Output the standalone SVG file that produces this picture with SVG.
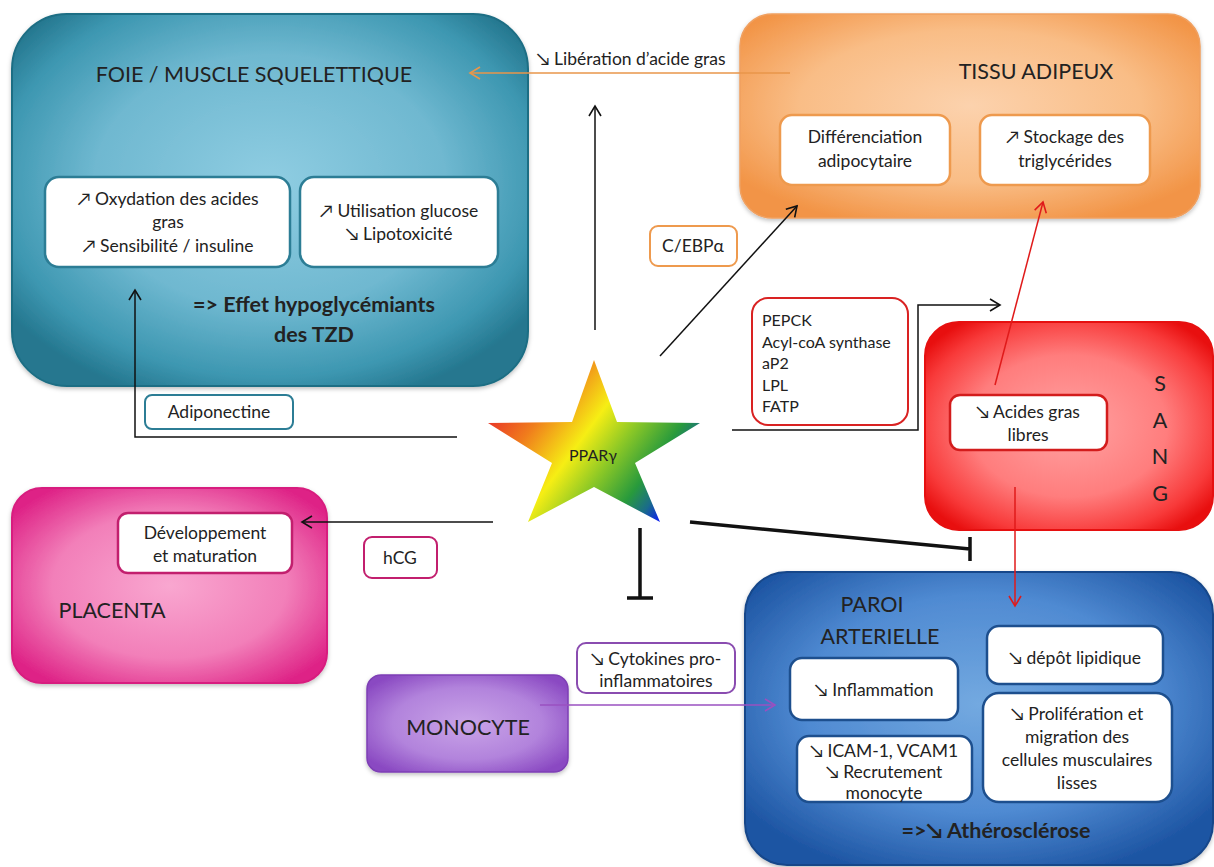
<svg xmlns="http://www.w3.org/2000/svg" width="1214" height="867" viewBox="0 0 1214 867">
<defs>
<radialGradient id="gTeal" cx="0.5" cy="0.45" r="0.62"><stop offset="0" stop-color="#8fcde2"/><stop offset="0.55" stop-color="#6fb8d0"/><stop offset="0.85" stop-color="#3d97b1"/><stop offset="1" stop-color="#25778f"/></radialGradient>
<radialGradient id="gOrange" cx="0.5" cy="0.45" r="0.62"><stop offset="0" stop-color="#fcd2ad"/><stop offset="0.6" stop-color="#f9bd86"/><stop offset="1" stop-color="#f29446"/></radialGradient>
<radialGradient id="gRed" cx="0.5" cy="0.5" r="0.62"><stop offset="0" stop-color="#ffa3a3"/><stop offset="0.55" stop-color="#ff7d7d"/><stop offset="0.85" stop-color="#f83a3a"/><stop offset="1" stop-color="#e80f0f"/></radialGradient>
<radialGradient id="gPink" cx="0.5" cy="0.5" r="0.62"><stop offset="0" stop-color="#f9a7d0"/><stop offset="0.6" stop-color="#f27fb9"/><stop offset="1" stop-color="#de2286"/></radialGradient>
<radialGradient id="gPurple" cx="0.5" cy="0.5" r="0.62"><stop offset="0" stop-color="#c9a4e8"/><stop offset="0.6" stop-color="#b283dc"/><stop offset="1" stop-color="#8a49c2"/></radialGradient>
<radialGradient id="gBlue" cx="0.5" cy="0.45" r="0.62"><stop offset="0" stop-color="#73a9e0"/><stop offset="0.6" stop-color="#4f8ad2"/><stop offset="1" stop-color="#1d55a3"/></radialGradient>
<linearGradient id="gStar" gradientUnits="userSpaceOnUse" x1="495" y1="400" x2="662" y2="522">
<stop offset="0" stop-color="#e82a2a"/><stop offset="0.22" stop-color="#f07c1c"/><stop offset="0.45" stop-color="#f6ee14"/><stop offset="0.62" stop-color="#8cc826"/><stop offset="0.8" stop-color="#289a3c"/><stop offset="0.9" stop-color="#1a6c8a"/><stop offset="1" stop-color="#0a14ff"/></linearGradient>
<marker id="aBlack" markerWidth="14" markerHeight="14" refX="12" refY="7" orient="auto" markerUnits="userSpaceOnUse"><path d="M2,1 L12,7 L2,13" fill="none" stroke="#111" stroke-width="1.6"/></marker>
<marker id="aOrange" markerWidth="14" markerHeight="14" refX="12" refY="7" orient="auto" markerUnits="userSpaceOnUse"><path d="M2,1 L12,7 L2,13" fill="none" stroke="#e8964a" stroke-width="1.6"/></marker>
<marker id="aRed" markerWidth="14" markerHeight="14" refX="12" refY="7" orient="auto" markerUnits="userSpaceOnUse"><path d="M2,1 L12,7 L2,13" fill="none" stroke="#e01a1a" stroke-width="1.6"/></marker>
<marker id="aPurple" markerWidth="14" markerHeight="14" refX="12" refY="7" orient="auto" markerUnits="userSpaceOnUse"><path d="M2,1 L12,7 L2,13" fill="none" stroke="#9a50c0" stroke-width="1.6"/></marker>
<filter id="sh" x="-10%" y="-10%" width="120%" height="120%"><feDropShadow dx="0" dy="2" stdDeviation="2" flood-color="#000" flood-opacity="0.25"/></filter>
</defs>
<style>
text{font-family:Lato,"Open Sans","DejaVu Sans",sans-serif;fill:#222;text-anchor:middle}
.t{font-size:17.5px}
.h{font-size:21.5px}
.b{font-size:21.5px;font-weight:bold}
.l{text-anchor:start;font-size:16px}
.inner{fill:#fff;stroke-width:2.5}
.ln{fill:none;stroke:#111;stroke-width:1.5}
.inh{fill:none;stroke:#111;stroke-width:3.5}
</style>

<g id="foie">
<rect x="12" y="14" width="516" height="372" rx="55" fill="url(#gTeal)" stroke="#1f6e84" stroke-width="2" filter="url(#sh)"/>
<text class="h" x="254" y="82">FOIE / MUSCLE SQUELETTIQUE</text>
<rect class="inner" x="45" y="177" width="245" height="90" rx="14" stroke="#2c7d95"/>
<text class="t" x="168" y="205">↗ Oxydation des acides</text>
<text class="t" x="168" y="228">gras</text>
<text class="t" x="168" y="252">↗ Sensibilité / insuline</text>
<rect class="inner" x="300" y="177" width="198" height="90" rx="14" stroke="#2c7d95"/>
<text class="t" x="399" y="217">↗ Utilisation glucose</text>
<text class="t" x="399" y="240">↘ Lipotoxicité</text>
<text class="b" x="314" y="312">=&gt; Effet hypoglycémiants</text>
<text class="b" x="314" y="342">des TZD</text>
</g>

<g id="liberation"><text class="t" x="631" y="65">↘ Libération d’acide gras</text></g>

<g id="adiponectine">
<rect x="145" y="395" width="148" height="34" rx="7" fill="#fff" stroke="#2c7d95" stroke-width="2"/>
<text class="t" x="219" y="418">Adiponectine</text>
</g>

<g id="tissu">
<rect x="740" y="14" width="460" height="204" rx="32" fill="url(#gOrange)" stroke="#f0a060" stroke-width="1.5" filter="url(#sh)"/>
<text class="h" x="1036" y="79">TISSU ADIPEUX</text>
<rect class="inner" x="780" y="115" width="170" height="70" rx="12" stroke="#ee9a4e"/>
<text class="t" x="865" y="143">Différenciation</text>
<text class="t" x="865" y="167">adipocytaire</text>
<rect class="inner" x="980" y="115" width="170" height="70" rx="12" stroke="#ee9a4e"/>
<text class="t" x="1065" y="143">↗ Stockage des</text>
<text class="t" x="1065" y="167">triglycérides</text>
</g>

<g id="cebp">
<rect x="650" y="226" width="87" height="40" rx="8" fill="#fff" stroke="#ee9a4e" stroke-width="2"/>
<text class="t" x="693" y="252">C/EBPα</text>
</g>

<g id="genes">
<rect x="752" y="298" width="156" height="127" rx="16" fill="#fff" stroke="#d92222" stroke-width="2"/>
<text class="l" x="762" y="326">PEPCK</text>
<text class="l" x="762" y="348">Acyl-coA synthase</text>
<text class="l" x="762" y="369">aP2</text>
<text class="l" x="762" y="391">LPL</text>
<text class="l" x="762" y="412">FATP</text>
</g>

<g id="sang">
<rect x="925" y="322" width="288" height="208" rx="34" fill="url(#gRed)" stroke="#e61010" stroke-width="2"/>
<rect class="inner" x="950" y="395" width="157" height="55" rx="10" stroke="#d31c1c"/>
<text class="t" x="1028" y="418">↘ Acides gras</text>
<text class="t" x="1028" y="441">libres</text>
<text class="h" x="1160" y="391">S</text>
<text class="h" x="1160" y="428">A</text>
<text class="h" x="1160" y="464">N</text>
<text class="h" x="1160" y="501">G</text>
</g>

<g id="ppar">
<polygon points="594,360 617,422 700,423 635,463 660,522 594,487 528,522 552,463 488,423 572,422" fill="url(#gStar)"/>
<text x="593" y="461" style="font-size:16px">PPARγ</text>
</g>

<g id="placenta">
<rect x="12" y="488" width="315" height="195" rx="30" fill="url(#gPink)" stroke="#d81f7f" stroke-width="2" filter="url(#sh)"/>
<rect class="inner" x="118" y="513" width="174" height="60" rx="10" stroke="#c21f6e"/>
<text class="t" x="205" y="539">Développement</text>
<text class="t" x="205" y="562">et maturation</text>
<text class="h" x="112" y="618">PLACENTA</text>
</g>

<g id="hcg">
<rect x="364" y="537" width="73" height="41" rx="8" fill="#fff" stroke="#c21f6e" stroke-width="2"/>
<text class="t" x="400" y="564">hCG</text>
</g>

<g id="cytokines">
<rect x="577" y="643" width="158" height="50" rx="9" fill="#fff" stroke="#8a4cb0" stroke-width="2"/>
<text class="t" x="656" y="665">↘ Cytokines pro-</text>
<text class="t" x="656" y="687">inflammatoires</text>
</g>

<g id="monocyte">
<rect x="367" y="675" width="201" height="97" rx="14" fill="url(#gPurple)" stroke="#7e3fb5" stroke-width="1.5" filter="url(#sh)"/>
<text class="h" x="468" y="735">MONOCYTE</text>
</g>

<g id="paroi">
<rect x="745" y="572" width="468" height="293" rx="42" fill="url(#gBlue)" stroke="#17478a" stroke-width="2" filter="url(#sh)"/>
<text class="h" x="872" y="612">PAROI</text>
<text class="h" x="880" y="644">ARTERIELLE</text>
<rect class="inner" x="790" y="658" width="168" height="62" rx="12" stroke="#1d4f8e"/>
<text class="t" x="874" y="696">↘ Inflammation</text>
<rect class="inner" x="797" y="736" width="175" height="66" rx="12" stroke="#1d4f8e"/>
<text class="t" x="884" y="757">↘ ICAM-1, VCAM1</text>
<text class="t" x="884" y="778">↘ Recrutement</text>
<text class="t" x="884" y="799">monocyte</text>
<rect class="inner" x="987" y="626" width="176" height="58" rx="12" stroke="#1d4f8e"/>
<text class="t" x="1075" y="664">↘ dépôt lipidique</text>
<rect class="inner" x="983" y="693" width="189" height="109" rx="16" stroke="#1d4f8e"/>
<text class="t" x="1077" y="720">↘ Prolifération et</text>
<text class="t" x="1077" y="743">migration des</text>
<text class="t" x="1077" y="766">cellules musculaires</text>
<text class="t" x="1077" y="789">lisses</text>
<text class="b" x="996" y="838">=&gt;↘ Athérosclérose</text>
</g>

<g id="connectors">
<path class="ln" d="M790,73 H470" style="stroke:#e8964a" marker-end="url(#aOrange)"/>
<path class="ln" d="M595,330 V106" marker-end="url(#aBlack)"/>
<path class="ln" d="M457,437 H135 V290" marker-end="url(#aBlack)"/>
<path class="ln" d="M660,356 L797,206" marker-end="url(#aBlack)"/>
<path class="ln" d="M732,430 H918 V305 H1000" marker-end="url(#aBlack)"/>
<path class="ln" d="M995,385 L1043,202" style="stroke:#e01a1a" marker-end="url(#aRed)"/>
<path class="ln" d="M1015,487 V606" style="stroke:#e01a1a" marker-end="url(#aRed)"/>
<path class="ln" d="M493,522 H302" marker-end="url(#aBlack)"/>
<path class="inh" d="M690,522 L970,549 M970,537 V561"/>
<path class="inh" d="M640,528 V598 M627,598 H653"/>
<path class="ln" d="M540,705 H775" style="stroke:#9a50c0" marker-end="url(#aPurple)"/>
</g>
</svg>
